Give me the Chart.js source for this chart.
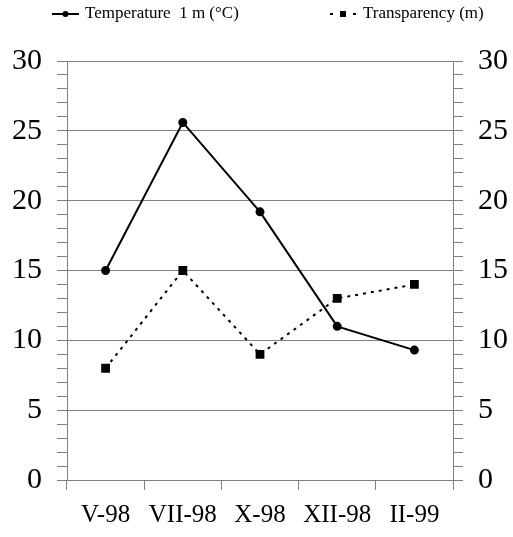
<!DOCTYPE html>
<html lang="en">
<head>
    <meta charset="UTF-8">
    <title>Temperature and Transparency</title>
    <script src="https://cdn.jsdelivr.net/npm/chart.js@4.4.0/dist/chart.umd.min.js"></script>
    <style>
        body { margin: 0; background: #fff; }
        .wrap { position: relative; width: 513px; height: 537px; }
        .legend { position: absolute; top: 4px; left: 0; width: 513px; height: 20px;
                  font-family: "Liberation Serif", "Times New Roman", serif; font-size: 17px; color: #000; }
        .item { position: absolute; top: 0; white-space: nowrap; line-height: 18px; }
        .icon { display: inline-block; vertical-align: middle; margin-right: 6px; }
    </style>
</head>
<body>
<div class="wrap">
    <div class="legend">
        <div class="item" style="left:52px">
            <canvas class="icon" id="icon1" width="27" height="10"></canvas>Temperature&nbsp; 1 m (°C)
        </div>
        <div class="item" style="left:330px">
            <canvas class="icon" id="icon2" width="27" height="10"></canvas>Transparency (m)
        </div>
    </div>
    <canvas id="myChart" width="513" height="537"></canvas>
</div>
<script>
    var months = ['V-98', 'VII-98', 'X-98', 'XII-98', 'II-99'];
    var temperature = [15, 25.6, 19.2, 11, 9.3];
    var transparency = [8, 15, 9, 13, 14];
    var axisMin = 0;
    var axisMax = 30;

    // legend icons
    var c1 = document.getElementById('icon1').getContext('2d');
    c1.strokeStyle = '#000'; c1.lineWidth = 2;
    c1.beginPath(); c1.moveTo(0, 5); c1.lineTo(27, 5); c1.stroke();
    c1.beginPath(); c1.arc(13.5, 5, 3, 0, Math.PI * 2); c1.fillStyle = '#000'; c1.fill();
    var c2 = document.getElementById('icon2').getContext('2d');
    c2.fillStyle = '#000';
    c2.fillRect(0, 4, 3, 2);
    c2.fillRect(10, 2, 6, 6);
    c2.fillRect(23, 4, 3, 2);

    var gray = '#808080';
    var serif = '"Liberation Serif", "Times New Roman", serif';

    function yTicks(pos, w) {
        return {
            type: 'linear',
            position: pos,
            min: axisMin,
            max: axisMax,
            afterFit: function (scale) { scale.width = w; },
            border: { color: gray, width: 1 },
            grid: {
                drawOnChartArea: pos === 'left',
                color: function (c) { return c.tick && c.tick.value % 5 === 0 ? gray : 'rgba(0,0,0,0)'; },
                tickColor: gray,
                tickLength: 10,
                lineWidth: 1
            },
            ticks: {
                stepSize: 1,
                autoSkip: false,
                padding: 15,
                color: '#000',
                font: { family: serif, size: 30 },
                callback: function (v) { return v % 5 === 0 ? v : ''; }
            }
        };
    }

    var ctx = document.getElementById('myChart').getContext('2d');
    var myChart = new Chart(ctx, {
        type: 'line',
        data: {
            labels: months,
            datasets: [{
                label: 'Temperature  1 m (°C)',
                data: temperature,
                yAxisID: 'y',
                borderColor: '#000',
                backgroundColor: '#000',
                borderWidth: 2,
                pointStyle: 'circle',
                pointRadius: 3.5,
                tension: 0
            }, {
                label: 'Transparency (m)',
                data: transparency,
                yAxisID: 'y1',
                borderColor: '#000',
                backgroundColor: '#000',
                borderWidth: 2,
                borderDash: [3, 5],
                pointStyle: 'rect',
                pointRadius: 4.8,
                tension: 0
            }]
        },
        options: {
            responsive: false,
            animation: false,
            layout: { padding: { top: 61, left: 0, right: 0, bottom: 0 } },
            plugins: { legend: { display: false }, tooltip: { enabled: false } },
            scales: {
                x: {
                    offset: true,
                    afterFit: function (scale) { scale.height = 57; },
                    border: { color: gray, width: 1 },
                    grid: { offset: true, drawOnChartArea: false, tickColor: gray, tickLength: 10 },
                    ticks: { color: '#000', padding: 10, autoSkip: false, maxRotation: 0, minRotation: 0,
                             font: { family: serif, size: 25 } }
                },
                y: yTicks('left', 67),
                y1: yTicks('right', 60)
            }
        }
    });
</script>
</body>
</html>
